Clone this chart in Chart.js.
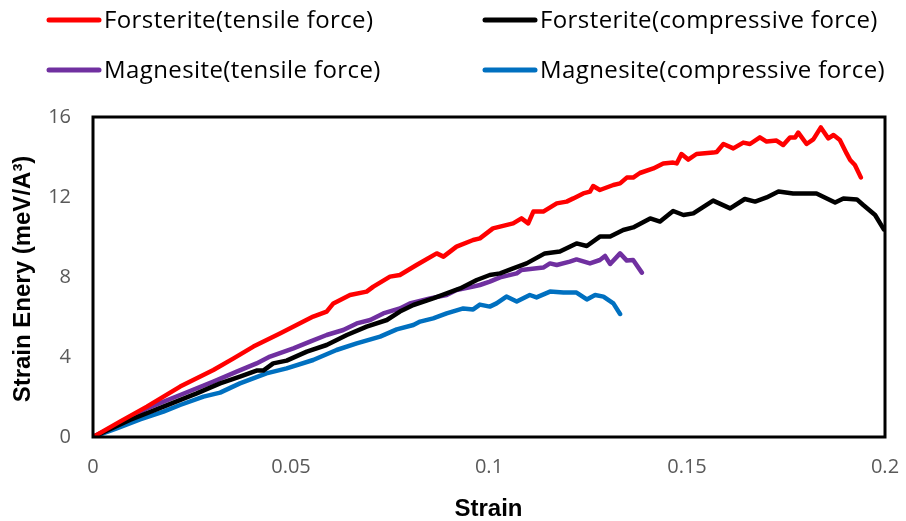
<!DOCTYPE html>
<html>
<head>
<meta charset="utf-8">
<script src="https://cdn.jsdelivr.net/npm/chart.js@4.4.0/dist/chart.umd.min.js"></script>
<style>
  html, body { margin: 0; padding: 0; background: #fff; }
  #wrap { width: 906px; height: 521px; position: relative; }
</style>
</head>
<body>
<div id="wrap"><canvas id="strainChart" width="906" height="521"></canvas></div>
<script>
// Forsterite, tensile force
const fTenX = [0, 0.0068, 0.0136, 0.022, 0.0304, 0.0355, 0.0405, 0.0472, 0.0514, 0.0556, 0.059, 0.0607, 0.0649, 0.0691, 0.0708, 0.075, 0.0775, 0.0817, 0.0868, 0.0885, 0.0918, 0.096, 0.0977, 0.101, 0.1061, 0.1082, 0.1099, 0.1112, 0.1137, 0.1171, 0.1196, 0.1213, 0.1238, 0.1255, 0.1263, 0.128, 0.1314, 0.1331, 0.1348, 0.1364, 0.1381, 0.1415, 0.144, 0.1465, 0.1474, 0.1486, 0.1503, 0.1524, 0.1566, 0.1575, 0.1592, 0.1617, 0.1642, 0.1659, 0.1684, 0.1701, 0.1726, 0.1743, 0.176, 0.1773, 0.1781, 0.1802, 0.1819, 0.1838, 0.1857, 0.187, 0.1886, 0.1903, 0.1912, 0.1924, 0.1939];
const fTenY = [0, 0.77, 1.52, 2.52, 3.35, 3.93, 4.52, 5.18, 5.6, 6.02, 6.27, 6.68, 7.1, 7.27, 7.52, 8.02, 8.1, 8.6, 9.18, 9.02, 9.52, 9.85, 9.93, 10.43, 10.68, 10.93, 10.68, 11.27, 11.27, 11.68, 11.77, 11.93, 12.18, 12.27, 12.55, 12.35, 12.6, 12.68, 12.97, 12.97, 13.2, 13.43, 13.68, 13.72, 13.68, 14.15, 13.87, 14.15, 14.22, 14.25, 14.65, 14.43, 14.72, 14.65, 14.98, 14.77, 14.82, 14.6, 14.98, 14.98, 15.22, 14.65, 14.88, 15.48, 14.93, 15.1, 14.85, 14.18, 13.85, 13.6, 12.98];

// Forsterite, compressive force
const fComX = [0, 0.0093, 0.0178, 0.0262, 0.0321, 0.0371, 0.0413, 0.043, 0.0455, 0.0489, 0.054, 0.059, 0.0641, 0.0691, 0.0742, 0.0775, 0.0809, 0.0859, 0.0893, 0.0927, 0.0969, 0.1002, 0.1028, 0.1061, 0.1095, 0.1141, 0.1179, 0.1221, 0.1247, 0.128, 0.1306, 0.1339, 0.1364, 0.1407, 0.1432, 0.1465, 0.1491, 0.1516, 0.1566, 0.1609, 0.1646, 0.1672, 0.1701, 0.1731, 0.1768, 0.1827, 0.1853, 0.1874, 0.1895, 0.1929, 0.1945, 0.1975, 0.1997];
const fComY = [0, 0.85, 1.52, 2.18, 2.68, 3.02, 3.32, 3.32, 3.68, 3.82, 4.27, 4.6, 5.1, 5.52, 5.85, 6.27, 6.6, 6.93, 7.18, 7.43, 7.85, 8.1, 8.18, 8.43, 8.68, 9.18, 9.27, 9.68, 9.55, 10.02, 10.02, 10.35, 10.48, 10.93, 10.77, 11.3, 11.1, 11.18, 11.82, 11.43, 11.9, 11.77, 11.98, 12.27, 12.18, 12.18, 11.93, 11.72, 11.93, 11.88, 11.6, 11.1, 10.38];

// Magnesite, tensile force
const mTenX = [0, 0.0077, 0.0136, 0.022, 0.0304, 0.0363, 0.0413, 0.0447, 0.0506, 0.0548, 0.059, 0.0632, 0.0666, 0.07, 0.0733, 0.0775, 0.08, 0.0851, 0.0893, 0.0918, 0.096, 0.0977, 0.1002, 0.1028, 0.107, 0.1082, 0.1137, 0.1154, 0.1171, 0.1204, 0.1221, 0.1255, 0.128, 0.1293, 0.1306, 0.1331, 0.1348, 0.1364, 0.1386];
const mTenY = [0, 0.77, 1.43, 2.1, 2.77, 3.27, 3.68, 4.02, 4.43, 4.77, 5.1, 5.35, 5.68, 5.85, 6.18, 6.43, 6.68, 6.93, 7.1, 7.35, 7.52, 7.6, 7.77, 7.98, 8.18, 8.35, 8.47, 8.68, 8.6, 8.77, 8.88, 8.68, 8.85, 9.05, 8.65, 9.18, 8.82, 8.85, 8.22];

// Magnesite, compressive force
const mComX = [0, 0.006, 0.0119, 0.0178, 0.022, 0.0279, 0.0321, 0.0371, 0.0438, 0.0489, 0.0556, 0.0615, 0.0666, 0.0725, 0.0767, 0.0809, 0.0826, 0.0859, 0.0893, 0.0935, 0.096, 0.0977, 0.1002, 0.1019, 0.1044, 0.107, 0.1103, 0.112, 0.1154, 0.1188, 0.1221, 0.1247, 0.1268, 0.1289, 0.1314, 0.1331];
const mComY = [0, 0.43, 0.88, 1.27, 1.6, 2.02, 2.22, 2.68, 3.18, 3.43, 3.85, 4.35, 4.68, 5.02, 5.38, 5.6, 5.77, 5.93, 6.18, 6.43, 6.38, 6.62, 6.52, 6.68, 7.02, 6.77, 7.1, 6.98, 7.27, 7.22, 7.22, 6.88, 7.1, 7.02, 6.68, 6.15];

const seriesNames = ['Forsterite(tensile force)', 'Forsterite(compressive force)', 'Magnesite(tensile force)', 'Magnesite(compressive force)'];
const seriesColors = ['#FF0000', '#000000', '#7030A0', '#0070C0'];
const xTicks = [0, 0.05, 0.1, 0.15, 0.2];
const yTicks = [0, 4, 8, 12, 16];
const xTitle = 'Strain';
const yTitle = 'Strain Enery (meV/A³)';

const textFont = "'Open Sans', Arial, sans-serif";
const titleFont = "bold 24px Arial, 'Liberation Sans', sans-serif";

function toPoints(xs, ys) {
  return xs.map((x, i) => ({ x: x, y: ys[i] }));
}

const allX = [fTenX, fComX, mTenX, mComX];
const allY = [fTenY, fComY, mTenY, mComY];

// frame round the plot area, axis titles and the 2x2 legend on top
const framePlugin = {
  id: 'frameAndLegend',
  afterDraw(chart) {
    const ctx = chart.ctx;
    const a = chart.chartArea;
    ctx.save();
    ctx.strokeStyle = '#000';
    ctx.lineWidth = 3;
    ctx.strokeRect(a.left, a.top, a.right - a.left, a.bottom - a.top);

    // axis titles
    ctx.fillStyle = '#000';
    ctx.font = titleFont;
    ctx.textAlign = 'center';
    ctx.textBaseline = 'middle';
    ctx.fillText(xTitle, (a.left + a.right) / 2 - 0.5, 509);
    ctx.save();
    ctx.translate(23, (a.top + a.bottom) / 2 + 2);
    ctx.rotate(-Math.PI / 2);
    ctx.fillText(yTitle, 0, 0);
    ctx.restore();

    // legend
    const spots = [[47, 20], [483, 20], [47, 70], [483, 70]];
    ctx.font = '24px ' + textFont;
    ctx.letterSpacing = '0.4px';
    ctx.textAlign = 'left';
    seriesNames.forEach((name, i) => {
      const [lx, ly] = spots[i];
      ctx.strokeStyle = seriesColors[i];
      ctx.lineWidth = 5;
      ctx.lineCap = 'round';
      ctx.beginPath();
      ctx.moveTo(lx + 2, ly);
      ctx.lineTo(lx + 52, ly);
      ctx.stroke();
      ctx.fillStyle = '#000';
      ctx.fillText(name, lx + 57, ly + 1);
    });
    ctx.restore();
  }
};

new Chart(document.getElementById('strainChart'), {
  type: 'scatter',
  data: {
    datasets: seriesNames.map((name, i) => ({
      label: name,
      data: toPoints(allX[i], allY[i]),
      showLine: true,
      borderColor: seriesColors[i],
      backgroundColor: seriesColors[i],
      borderWidth: 4.5,
      pointRadius: 0,
      borderCapStyle: 'round',
      borderJoinStyle: 'round'
    }))
  },
  options: {
    responsive: false,
    animation: false,
    layout: { padding: { top: 117, right: 21, left: 0, bottom: 0 } },
    plugins: {
      legend: { display: false },
      tooltip: { enabled: false }
    },
    scales: {
      x: {
        type: 'linear',
        min: 0,
        max: 0.2,
        afterBuildTicks(scale) { scale.ticks = xTicks.map(v => ({ value: v })); },
        afterFit(scale) {
          scale.height = 84;
          scale.paddingLeft = 0;
          scale.paddingRight = 0;
        },
        grid: { display: false, drawTicks: false },
        border: { display: false },
        ticks: {
          color: '#595959',
          padding: 18,
          font: { family: textFont, size: 20 },
          callback: v => String(v)
        }
      },
      y: {
        min: 0,
        max: 16,
        afterBuildTicks(scale) { scale.ticks = yTicks.map(v => ({ value: v })); },
        afterFit(scale) { scale.width = 93; },
        grid: { display: false, drawTicks: false },
        border: { display: false },
        ticks: {
          color: '#595959',
          padding: 22,
          font: { family: textFont, size: 20 }
        }
      }
    }
  },
  plugins: [framePlugin]
});
</script>
</body>
</html>
